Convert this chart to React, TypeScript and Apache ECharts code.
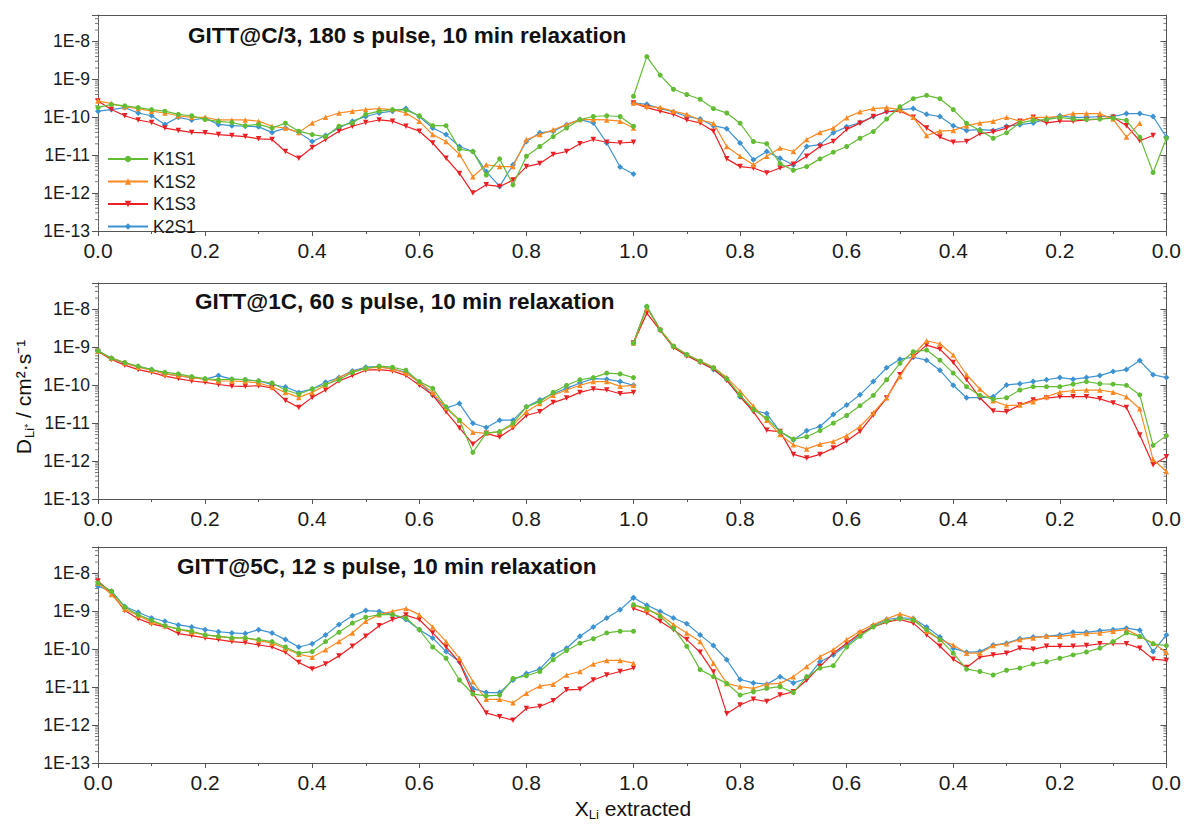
import React, { useEffect, useRef } from 'react';
import * as echarts from 'echarts';

// ---------------- data ----------------
const XL = [0, 0.025, 0.05, 0.075, 0.1, 0.125, 0.15, 0.175, 0.2, 0.225, 0.25, 0.275, 0.3, 0.325, 0.35, 0.375, 0.4, 0.425, 0.45, 0.475, 0.5, 0.525, 0.55, 0.575, 0.6, 0.625, 0.65, 0.675, 0.7, 0.725, 0.75, 0.775, 0.8, 0.825, 0.85, 0.875, 0.9, 0.925, 0.95, 0.975, 1];
const XR = [1, 0.975, 0.95, 0.925, 0.9, 0.875, 0.85, 0.825, 0.8, 0.775, 0.75, 0.725, 0.7, 0.675, 0.65, 0.625, 0.6, 0.575, 0.55, 0.525, 0.5, 0.475, 0.45, 0.425, 0.4, 0.375, 0.35, 0.325, 0.3, 0.275, 0.25, 0.225, 0.2, 0.175, 0.15, 0.125, 0.1, 0.075, 0.05, 0.025, 0];

const SAMPLES = ['K1S1', 'K1S2', 'K1S3', 'K2S1'];
const TITLES = [
  'GITT@C/3, 180 s pulse, 10 min relaxation',
  'GITT@1C, 60 s pulse, 10 min relaxation',
  'GITT@5C, 12 s pulse, 10 min relaxation',
];
const Y_MIN = 1e-13;
const Y_MAX = 5e-8;
// minor tick positions of the logarithmic D axis
const Y_MINOR_TICKS = [
  2e-13, 3e-13, 4e-13, 5e-13, 6e-13, 7e-13, 8e-13, 9e-13,
  2e-12, 3e-12, 4e-12, 5e-12, 6e-12, 7e-12, 8e-12, 9e-12,
  2e-11, 3e-11, 4e-11, 5e-11, 6e-11, 7e-11, 8e-11, 9e-11,
  2e-10, 3e-10, 4e-10, 5e-10, 6e-10, 7e-10, 8e-10, 9e-10,
  2e-9, 3e-9, 4e-9, 5e-9, 6e-9, 7e-9, 8e-9, 9e-9,
  2e-8, 3e-8, 4e-8,
];

// Panel 1 (C/3)
const P1L_K1S1 = [1.8e-10, 2.2e-10, 2.0e-10, 1.8e-10, 1.6e-10, 1.45e-10, 1.2e-10, 1.1e-10, 8.7e-11, 7.8e-11, 7.3e-11, 6e-11, 6.5e-11, 5.2e-11, 7e-11, 4.3e-11, 3.5e-11, 3.1e-11, 5.8e-11, 7.1e-11, 1.2e-10, 1.45e-10, 1.6e-10, 1.55e-10, 1.1e-10, 6e-11, 6e-11, 1.45e-11, 1.25e-11, 3e-12, 8e-12, 1.65e-12, 9.4e-12, 1.7e-11, 3.1e-11, 5.2e-11, 8.7e-11, 1.05e-10, 1.1e-10, 1.05e-10, 5.8e-11];
const P1L_K1S2 = [2.7e-10, 2.3e-10, 1.9e-10, 1.7e-10, 1.45e-10, 1.3e-10, 1.1e-10, 1e-10, 1e-10, 8.5e-11, 8.5e-11, 8.5e-11, 7.9e-11, 5.8e-11, 5.2e-11, 4e-11, 7.1e-11, 1e-10, 1.3e-10, 1.45e-10, 1.6e-10, 1.7e-10, 1.6e-10, 1.3e-10, 7.9e-11, 3.5e-11, 2.3e-11, 1.05e-11, 2.7e-12, 5.6e-12, 5e-12, 5e-12, 2.6e-11, 3.5e-11, 4.7e-11, 6.4e-11, 8.7e-11, 8.7e-11, 8.5e-11, 7.9e-11, 5.2e-11];
const P1L_K1S3 = [2.7e-10, 1.6e-10, 1.1e-10, 8.5e-11, 7.3e-11, 5.2e-11, 4.5e-11, 4e-11, 3.9e-11, 3.5e-11, 3.3e-11, 3.1e-11, 2.7e-11, 2.6e-11, 1.25e-11, 8.3e-12, 1.6e-11, 2.6e-11, 4.3e-11, 5.8e-11, 7.3e-11, 8.5e-11, 7.9e-11, 5.8e-11, 4.3e-11, 2.1e-11, 8.3e-12, 3.3e-12, 1e-12, 1.65e-12, 1.5e-12, 2.2e-12, 5e-12, 6e-12, 1.05e-11, 1.25e-11, 2e-11, 2.6e-11, 2.2e-11, 2.1e-11, 2.2e-11];
const P1L_K2S1 = [1.45e-10, 1.6e-10, 1.8e-10, 1.3e-10, 1.1e-10, 6.5e-11, 1e-10, 8.5e-11, 9.5e-11, 6.5e-11, 6e-11, 5.8e-11, 5.6e-11, 4e-11, 5.2e-11, 4e-11, 2.3e-11, 3.3e-11, 5.2e-11, 7.9e-11, 1.05e-10, 1.3e-10, 1.45e-10, 1.7e-10, 1.05e-10, 5.2e-11, 3.5e-11, 1.7e-11, 1.25e-11, 3.7e-12, 1.5e-12, 5.6e-12, 2.3e-11, 3.9e-11, 4.3e-11, 6.4e-11, 8.7e-11, 7.1e-11, 2.1e-11, 4.9e-12, 3.2e-12];
const P1R_K1S1 = [3.6e-10, 4e-9, 1.3e-9, 5.5e-10, 4e-10, 3e-10, 1.7e-10, 1.3e-10, 7e-11, 2.3e-11, 2e-11, 6e-12, 4e-12, 5e-12, 8e-12, 1.2e-11, 1.7e-11, 2.8e-11, 4.2e-11, 9e-11, 1.9e-10, 3.1e-10, 3.8e-10, 3.1e-10, 1.6e-10, 7e-11, 4.5e-11, 2.8e-11, 3.9e-11, 7.1e-11, 8.3e-11, 8.7e-11, 1e-10, 9e-11, 8.7e-11, 9e-11, 9.5e-11, 8.3e-11, 3e-11, 3.5e-12, 2.8e-11];
const P1R_K1S2 = [2.4e-10, 1.95e-10, 1.8e-10, 1.45e-10, 1.2e-10, 8.5e-11, 7e-11, 1.7e-11, 9.4e-12, 5.6e-12, 9.4e-12, 1.55e-11, 1.25e-11, 2.6e-11, 4e-11, 5.2e-11, 9.8e-11, 1.4e-10, 1.7e-10, 1.8e-10, 1.6e-10, 1e-10, 3.3e-11, 4.3e-11, 4.5e-11, 6e-11, 7.1e-11, 7.9e-11, 1e-10, 7.9e-11, 1e-10, 1e-10, 1.05e-10, 1.25e-10, 1.25e-10, 1.25e-10, 9e-11, 3e-11, 7e-11];
const P1R_K1S3 = [2.4e-10, 1.8e-10, 1.45e-10, 1.2e-10, 8.5e-11, 7.1e-11, 4.3e-11, 8e-12, 5e-12, 4.6e-12, 3.4e-12, 4.6e-12, 5.8e-12, 9.4e-12, 1.7e-11, 2.3e-11, 4.8e-11, 7e-11, 1.05e-10, 1.4e-10, 1.45e-10, 1e-10, 5.2e-11, 3e-11, 2.2e-11, 2.3e-11, 3.7e-11, 4.1e-11, 5.2e-11, 7.9e-11, 1e-10, 7.1e-11, 7.9e-11, 7.9e-11, 8.5e-11, 9e-11, 1e-10, 6e-11, 2.4e-11, 3.3e-11];
const P1R_K2S1 = [2.4e-10, 2.2e-10, 1.7e-10, 1.4e-10, 1.05e-10, 9e-11, 6e-11, 5e-11, 2.1e-11, 7.6e-12, 1.25e-11, 8.3e-12, 5.5e-12, 1.7e-11, 1.9e-11, 3.9e-11, 5.6e-11, 7.3e-11, 1.05e-10, 1.4e-10, 1.6e-10, 1.7e-10, 1.2e-10, 1.05e-10, 6e-11, 4.5e-11, 4.7e-11, 4.5e-11, 5.8e-11, 6.4e-11, 7.1e-11, 9e-11, 1.1e-10, 1e-10, 1e-10, 1.05e-10, 1.05e-10, 1.25e-10, 1.25e-10, 1.05e-10, 3e-11];

// Panel 2 (1C)
const P2L_K1S1 = [8.1e-10, 5.2e-10, 4e-10, 3.2e-10, 2.6e-10, 2.2e-10, 2e-10, 1.7e-10, 1.5e-10, 1.4e-10, 1.45e-10, 1.4e-10, 1.3e-10, 1.15e-10, 7.5e-11, 5.8e-11, 8e-11, 1.05e-10, 1.4e-10, 2.2e-10, 2.8e-10, 3.2e-10, 3e-10, 2.5e-10, 1.25e-10, 8.3e-11, 2.7e-11, 1.2e-11, 1.7e-12, 5.5e-12, 6e-12, 1e-11, 2.7e-11, 3.7e-11, 6.5e-11, 1e-10, 1.4e-10, 1.6e-10, 2.1e-10, 2e-10, 1.6e-10];
const P2L_K1S2 = [8e-10, 5.2e-10, 3.9e-10, 3e-10, 2.5e-10, 2e-10, 1.8e-10, 1.6e-10, 1.45e-10, 1.3e-10, 1.3e-10, 1.25e-10, 1.15e-10, 9e-11, 6.5e-11, 4.8e-11, 6.5e-11, 1e-10, 1.6e-10, 2.3e-10, 2.8e-10, 3e-10, 2.7e-10, 2.1e-10, 1.2e-10, 6.5e-11, 2.5e-11, 1.2e-11, 5.8e-12, 5.4e-12, 6e-12, 9e-12, 2e-11, 3.3e-11, 5.5e-11, 7.5e-11, 1e-10, 1.25e-10, 1.25e-10, 9.4e-11, 1e-10];
const P2L_K1S3 = [7.8e-10, 4.8e-10, 3.4e-10, 2.6e-10, 2.2e-10, 1.75e-10, 1.5e-10, 1.3e-10, 1.2e-10, 1.05e-10, 9.5e-11, 9.4e-11, 9.8e-11, 8.5e-11, 4e-11, 2.6e-11, 4.8e-11, 7.5e-11, 1.3e-10, 1.8e-10, 2.5e-10, 2.6e-10, 2.4e-10, 1.8e-10, 1e-10, 5.5e-11, 2e-11, 7.5e-12, 2.8e-12, 5.4e-12, 4.3e-12, 7.5e-12, 1.6e-11, 2e-11, 3.5e-11, 4.6e-11, 6.5e-11, 8e-11, 7.5e-11, 6e-11, 6.5e-11];
const P2L_K2S1 = [8.1e-10, 5.2e-10, 3.8e-10, 3.1e-10, 2.6e-10, 2e-10, 1.8e-10, 1.6e-10, 1.45e-10, 1.8e-10, 1.45e-10, 1.4e-10, 1.3e-10, 1.05e-10, 9e-11, 6.5e-11, 8e-11, 1.2e-10, 1.6e-10, 2.4e-10, 3e-10, 3.1e-10, 2.7e-10, 2.2e-10, 1.2e-10, 5.5e-11, 2.5e-11, 3.3e-11, 1e-11, 7.7e-12, 1.2e-11, 1.2e-11, 2.7e-11, 4.1e-11, 6e-11, 8.3e-11, 1.15e-10, 1.5e-10, 1.45e-10, 1.25e-10, 1e-10];
const P2R_K1S1 = [1.3e-9, 1.2e-8, 2.9e-9, 1.07e-9, 6.5e-10, 4.3e-10, 2.9e-10, 1.5e-10, 5.5e-11, 2.3e-11, 1.35e-11, 6e-12, 3.8e-12, 4.4e-12, 6.4e-12, 1e-11, 1.6e-11, 2.9e-11, 5.4e-11, 1.4e-10, 3.8e-10, 7.7e-10, 8.5e-10, 4.6e-10, 2.1e-10, 9.2e-11, 5.4e-11, 4.3e-11, 4.7e-11, 7.5e-11, 9.2e-11, 9.2e-11, 9.2e-11, 1.07e-10, 1.25e-10, 1.1e-10, 1.07e-10, 1e-10, 5.6e-11, 2.6e-12, 4.7e-12];
const P2R_K1S2 = [1.3e-9, 1.1e-8, 3e-9, 1.1e-9, 6.5e-10, 4.4e-10, 3e-10, 1.6e-10, 7e-11, 2.8e-11, 1.2e-11, 5e-12, 2.7e-12, 2.1e-12, 2.8e-12, 3.3e-12, 4.7e-12, 8.2e-12, 1.9e-11, 4.7e-11, 1.7e-10, 6.3e-10, 1.5e-9, 1.25e-9, 6.3e-10, 1.9e-10, 8e-11, 3.9e-11, 2.9e-11, 3e-11, 3.7e-11, 5e-11, 6.6e-11, 7.3e-11, 7.5e-11, 7.5e-11, 6.6e-11, 5e-11, 2.4e-11, 1.1e-12, 5.3e-13];
const P2R_K1S3 = [1.3e-9, 8e-9, 2.8e-9, 1e-9, 6e-10, 4e-10, 2.7e-10, 1.35e-10, 5e-11, 2e-11, 6.5e-12, 6e-12, 1.5e-12, 1.2e-12, 1.5e-12, 2.2e-12, 3.4e-12, 6e-12, 1.65e-11, 4.6e-11, 1.9e-10, 5.7e-10, 1.15e-9, 9e-10, 4e-10, 1.4e-10, 4.7e-11, 2.1e-11, 2e-11, 3e-11, 4.1e-11, 4.6e-11, 5e-11, 5e-11, 5e-11, 4.4e-11, 3.4e-11, 2.6e-11, 4.9e-12, 8e-13, 1.3e-12];
const P2R_K2S1 = [1.3e-9, 1.2e-8, 2.9e-9, 1.05e-9, 6.1e-10, 4.2e-10, 2.6e-10, 1.4e-10, 5e-11, 2.2e-11, 1.8e-11, 6e-12, 3.6e-12, 6.3e-12, 8.2e-12, 1.7e-11, 3e-11, 5.6e-11, 1.25e-10, 2.9e-10, 4.9e-10, 5.5e-10, 4.6e-10, 2.5e-10, 1e-10, 4.7e-11, 4.7e-11, 5e-11, 1.02e-10, 1.1e-10, 1.25e-10, 1.4e-10, 1.6e-10, 1.45e-10, 1.6e-10, 1.8e-10, 2.3e-10, 2.6e-10, 4.5e-10, 1.9e-10, 1.6e-10];

// Panel 3 (5C)
const P3L_K1S1 = [5.6e-9, 3.4e-9, 1.3e-9, 8.2e-10, 5.8e-10, 4.2e-10, 3.4e-10, 3e-10, 2.4e-10, 2.2e-10, 2e-10, 2e-10, 1.8e-10, 1.6e-10, 1.15e-10, 7.9e-11, 8.7e-11, 1.6e-10, 2.8e-10, 4.9e-10, 7e-10, 8.2e-10, 8.2e-10, 6.7e-10, 3.3e-10, 1.15e-10, 5.8e-11, 1.55e-11, 6.6e-12, 5.9e-12, 6.2e-12, 1.7e-11, 2e-11, 2.6e-11, 5.3e-11, 9.3e-11, 1.45e-10, 1.9e-10, 2.7e-10, 3e-10, 3e-10];
const P3L_K1S2 = [5.6e-9, 2.8e-9, 1.15e-9, 7.8e-10, 5.2e-10, 4.2e-10, 3.4e-10, 2.8e-10, 2.4e-10, 2.2e-10, 2e-10, 2e-10, 1.7e-10, 1.45e-10, 1.05e-10, 7.4e-11, 6.2e-11, 9.7e-11, 1.6e-10, 2.7e-10, 5.5e-10, 8.2e-10, 1e-9, 1.2e-9, 8.2e-10, 3.9e-10, 1.6e-10, 5.8e-11, 1.4e-11, 4.8e-12, 4.8e-12, 3.9e-12, 6.9e-12, 1.07e-11, 1.2e-11, 2.1e-11, 2.6e-11, 4.1e-11, 5.1e-11, 5.1e-11, 4.3e-11];
const P3L_K1S3 = [6.3e-9, 3.1e-9, 1.05e-9, 6.4e-10, 4.7e-10, 3.9e-10, 2.6e-10, 2.3e-10, 2e-10, 1.8e-10, 1.6e-10, 1.5e-10, 1.3e-10, 1.15e-10, 8.3e-11, 4.5e-11, 3e-11, 4.1e-11, 6.7e-11, 1.2e-10, 2.2e-10, 4.2e-10, 6.1e-10, 8e-10, 6.1e-10, 2.7e-10, 1.15e-10, 4.5e-11, 6.9e-12, 2.1e-12, 1.66e-12, 1.35e-12, 2.75e-12, 3.1e-12, 4.4e-12, 8.5e-12, 8.8e-12, 1.55e-11, 2.1e-11, 2.6e-11, 3.2e-11];
const P3L_K2S1 = [4.6e-9, 3.4e-9, 1.35e-9, 9.5e-10, 6.7e-10, 5.5e-10, 4.4e-10, 3.9e-10, 3.3e-10, 2.9e-10, 2.7e-10, 2.6e-10, 3.3e-10, 2.7e-10, 1.8e-10, 1.15e-10, 1.4e-10, 2.4e-10, 4.5e-10, 7.7e-10, 1.05e-9, 1e-9, 8.2e-10, 6.1e-10, 3.3e-10, 2e-10, 8.7e-11, 4.7e-11, 9.3e-12, 7.2e-12, 7.2e-12, 1.55e-11, 2.3e-11, 3e-11, 7.1e-11, 1.07e-10, 2.2e-10, 3.9e-10, 6.7e-10, 1.1e-9, 2.3e-9];
const P3R_K1S1 = [1.5e-9, 1.2e-9, 7.4e-10, 3.6e-10, 1.2e-10, 2.9e-11, 1.9e-11, 1.26e-11, 6.2e-12, 7.6e-12, 9.3e-12, 1.03e-11, 7.2e-12, 1.9e-11, 3.2e-11, 3.7e-11, 1.15e-10, 2.2e-10, 3.9e-10, 5.5e-10, 6.5e-10, 5.8e-10, 3.3e-10, 1.8e-10, 7.9e-11, 3e-11, 2.6e-11, 2.1e-11, 2.8e-11, 3.2e-11, 4.1e-11, 4.7e-11, 5.8e-11, 7.1e-11, 8.5e-11, 1.07e-10, 1.6e-10, 2.7e-10, 2.2e-10, 1.4e-10, 1.25e-10];
const P3R_K1S2 = [1.5e-9, 1.1e-9, 8.2e-10, 4.5e-10, 2.7e-10, 1.6e-10, 4.3e-11, 1.26e-11, 1.03e-11, 9.3e-12, 1.2e-11, 1.26e-11, 1.9e-11, 3.5e-11, 6.4e-11, 9.7e-11, 1.8e-10, 3e-10, 4.5e-10, 6.4e-10, 8.6e-10, 6.7e-10, 3e-10, 1.8e-10, 1.3e-10, 7.9e-11, 7.9e-11, 1.25e-10, 1.4e-10, 1.8e-10, 2e-10, 2.2e-10, 2.2e-10, 2.4e-10, 2.6e-10, 2.7e-10, 3e-10, 3.3e-10, 2.2e-10, 1.45e-10, 8.3e-11];
const P3R_K1S3 = [1.2e-9, 9.1e-10, 5.5e-10, 3.3e-10, 1.8e-10, 8.3e-11, 2.5e-11, 2e-12, 3.4e-12, 4.8e-12, 4.2e-12, 6.2e-12, 7.6e-12, 1.55e-11, 3.5e-11, 7.9e-11, 1.45e-10, 2.6e-10, 3.9e-10, 5.2e-10, 6.1e-10, 4.9e-10, 2.4e-10, 1.2e-10, 5.5e-11, 3.3e-11, 6.2e-11, 7.1e-11, 7.9e-11, 1.07e-10, 1e-10, 1.2e-10, 1.2e-10, 1.2e-10, 1.25e-10, 1.4e-10, 1.4e-10, 1.4e-10, 1.07e-10, 5.5e-11, 5.1e-11];
const P3R_K2S1 = [2.3e-9, 1.45e-9, 1e-9, 6.7e-10, 4.7e-10, 2.4e-10, 1.25e-10, 5.3e-11, 1.6e-11, 1.3e-11, 1.2e-11, 1.9e-11, 1.3e-11, 1.7e-11, 4.7e-11, 7.1e-11, 1.3e-10, 2.4e-10, 4.2e-10, 6.1e-10, 6.8e-10, 6.5e-10, 3.9e-10, 2.1e-10, 1.07e-10, 8.3e-11, 8.7e-11, 1.3e-10, 1.45e-10, 1.9e-10, 2.1e-10, 2.2e-10, 2.4e-10, 2.8e-10, 2.8e-10, 3.1e-10, 3.3e-10, 3.6e-10, 3.2e-10, 8.7e-11, 2.4e-10];

const PANELS = [
  { left: [P1L_K1S1, P1L_K1S2, P1L_K1S3, P1L_K2S1], right: [P1R_K1S1, P1R_K1S2, P1R_K1S3, P1R_K2S1] },
  { left: [P2L_K1S1, P2L_K1S2, P2L_K1S3, P2L_K2S1], right: [P2R_K1S1, P2R_K1S2, P2R_K1S3, P2R_K2S1] },
  { left: [P3L_K1S1, P3L_K1S2, P3L_K1S3, P3L_K2S1], right: [P3R_K1S1, P3R_K1S2, P3R_K1S3, P3R_K2S1] },
];

// ---------------- styling ----------------
const COLORS = ['#62bd35', '#fb8a22', '#ec2024', '#3d93d1'];
const SYMBOLS = ['circle', 'triangle', 'triangle', 'diamond'];
const SYMBOL_ROTATE = [0, 0, 180, 0];
const SYMBOL_SIZE = [5, 5.5, 5.5, 6];
const FONT = 'Arial, "Liberation Sans", Helvetica, sans-serif';
const AXIS_COLOR = '#555';
const TEXT_COLOR = '#1a1a1a';

const PANEL_TOPS = [15, 283, 547];
const PANEL_H = 216;
const LEFT_X = 98;
const MID_X = 633.5;
const RIGHT_X = 1167;
const TITLE_POS = [
  { left: 188, top: 24 },
  { left: 195, top: 290 },
  { left: 177, top: 555 },
];

function yLabel(v: number) {
  const e = Math.log10(v);
  const r = Math.round(e);
  return Math.abs(e - r) < 1e-6 ? '1E' + r : '';
}

function buildOption() {
  const grid: any[] = [];
  const xAxis: any[] = [];
  const yAxis: any[] = [];
  const series: any[] = [];
  const graphic: any[] = [];

  const xBottom = (gridIndex: number, inverse: boolean) => ({
    type: 'value',
    gridIndex,
    position: 'bottom',
    min: 0,
    max: 1,
    interval: 0.2,
    inverse,
    axisLine: { show: true, lineStyle: { color: AXIS_COLOR, width: 1 } },
    axisTick: { show: true, inside: false, length: 5, lineStyle: { color: AXIS_COLOR } },
    minorTick: { show: true, splitNumber: 2, length: 3, lineStyle: { color: AXIS_COLOR } },
    axisLabel: {
      show: true,
      margin: 9,
      fontSize: 21,
      fontFamily: FONT,
      color: TEXT_COLOR,
      formatter: (v: number) => v.toFixed(1),
      showMaxLabel: !inverse,
    },
    splitLine: { show: false },
  });
  const xTop = (gridIndex: number, inverse: boolean) => ({
    type: 'value',
    gridIndex,
    position: 'top',
    min: 0,
    max: 1,
    interval: 0.2,
    inverse,
    axisLine: { show: true, lineStyle: { color: AXIS_COLOR, width: 1 } },
    axisTick: { show: false },
    axisLabel: { show: false },
    splitLine: { show: false },
  });
  const yBase = (gridIndex: number, position: string) => ({
    type: 'log',
    logBase: 10,
    gridIndex,
    position,
    min: Y_MIN,
    max: Y_MAX,
    splitLine: { show: false },
  });
  const minorTicks = (xi: number, yi: number) => ({
    type: 'scatter',
    name: 'minor-ticks',
    xAxisIndex: xi,
    yAxisIndex: yi,
    data: Y_MINOR_TICKS.map((v) => [0, v]),
    symbol: 'rect',
    symbolSize: [3, 1],
    symbolOffset: [-1.5, 0],
    itemStyle: { color: AXIS_COLOR },
    silent: true,
    clip: false,
    emphasis: { disabled: true },
    z: 1,
  });

  PANELS.forEach((panel, p) => {
    const top = PANEL_TOPS[p];
    grid.push({ left: LEFT_X, top, width: MID_X - LEFT_X, height: PANEL_H });
    grid.push({ left: MID_X, top, width: RIGHT_X - MID_X, height: PANEL_H });
    const gl = 2 * p;
    const gr = 2 * p + 1;

    xAxis.push(xBottom(gl, false)); // 4p
    xAxis.push(xTop(gl, false)); // 4p+1
    xAxis.push(xBottom(gr, true)); // 4p+2
    xAxis.push(xTop(gr, true)); // 4p+3

    yAxis.push({
      ...yBase(gl, 'left'),
      axisLine: { show: true, lineStyle: { color: AXIS_COLOR, width: 1 } },
      axisTick: { show: true, inside: false, length: 6, lineStyle: { color: AXIS_COLOR } },
      axisLabel: {
        show: true,
        margin: 8,
        fontSize: 17.5,
        fontFamily: FONT,
        color: TEXT_COLOR,
        formatter: yLabel,
      },
    }); // 3p
    yAxis.push({
      ...yBase(gl, 'right'),
      axisLine: { show: true, lineStyle: { color: '#777', width: 1, type: [1.5, 2.5] } },
      axisTick: { show: false },
      axisLabel: { show: false },
    }); // 3p+1
    yAxis.push({
      ...yBase(gr, 'right'),
      axisLine: { show: true, lineStyle: { color: AXIS_COLOR, width: 1 } },
      axisTick: { show: true, inside: true, length: 6, lineStyle: { color: AXIS_COLOR } },
      axisLabel: { show: false },
    }); // 3p+2

    series.push(minorTicks(4 * p, 3 * p));
    series.push(minorTicks(4 * p + 2, 3 * p + 2));

    SAMPLES.forEach((name, s) => {
      const mk = (xs: number[], vals: number[], xi: number, yi: number) => ({
        type: 'line',
        name,
        xAxisIndex: xi,
        yAxisIndex: yi,
        data: vals.map((v, i) => [xs[i], v]),
        symbol: SYMBOLS[s],
        symbolSize: SYMBOL_SIZE[s],
        symbolRotate: SYMBOL_ROTATE[s],
        showSymbol: true,
        lineStyle: { color: COLORS[s], width: 1.2 },
        itemStyle: { color: COLORS[s] },
        emphasis: { disabled: true },
        z: 3 + (3 - s),
      });
      series.push(mk(XL, panel.left[s], 4 * p, 3 * p));
      series.push(mk(XR, panel.right[s], 4 * p + 2, 3 * p + 2));
    });

    graphic.push({
      type: 'text',
      left: TITLE_POS[p].left,
      top: TITLE_POS[p].top,
      style: {
        text: TITLES[p],
        fontFamily: FONT,
        fontSize: 22.5,
        fontWeight: 'bold',
        fill: '#111',
      },
      z: 10,
    });
  });

  graphic.push({
    type: 'text',
    x: 23,
    y: 397,
    rotation: Math.PI / 2,
    style: {
      text: '{a|D}{b|Li⁺}{a| / cm²·s⁻¹}',
      align: 'center',
      verticalAlign: 'middle',
      fill: '#111',
      rich: {
        a: { fontSize: 21, fontFamily: FONT, fill: '#111', lineHeight: 26, verticalAlign: 'middle' },
        b: { fontSize: 13, fontFamily: FONT, fill: '#111', lineHeight: 26, verticalAlign: 'bottom', padding: [0, 0, 0, 1] },
      },
    },
  });
  graphic.push({
    type: 'text',
    x: 633,
    y: 808,
    style: {
      text: '{a|X}{b|Li}{a| extracted}',
      align: 'center',
      verticalAlign: 'middle',
      fill: '#111',
      rich: {
        a: { fontSize: 21, fontFamily: FONT, fill: '#111', lineHeight: 26, verticalAlign: 'middle' },
        b: { fontSize: 13, fontFamily: FONT, fill: '#111', lineHeight: 26, verticalAlign: 'bottom' },
      },
    },
  });

  return {
    animation: false,
    backgroundColor: '#ffffff',
    grid,
    xAxis,
    yAxis,
    series,
    graphic,
    legend: {
      show: true,
      orient: 'vertical',
      left: 102,
      top: 145,
      itemWidth: 40,
      itemHeight: 8,
      itemGap: 4.5,
      data: SAMPLES,
      textStyle: { fontSize: 17.5, fontFamily: FONT, color: TEXT_COLOR, lineHeight: 17 },
      selectedMode: false,
    },
  };
}

export default function App() {
  const ref = useRef<HTMLDivElement>(null);
  useEffect(() => {
    if (!ref.current) return;
    const chart = echarts.init(ref.current, undefined, { renderer: 'svg' });
    chart.setOption(buildOption() as any);
    return () => chart.dispose();
  }, []);
  return (
    <div
      ref={ref}
      style={{ position: 'fixed', left: 0, top: 0, width: 1184, height: 824, background: '#fff' }}
    />
  );
}
